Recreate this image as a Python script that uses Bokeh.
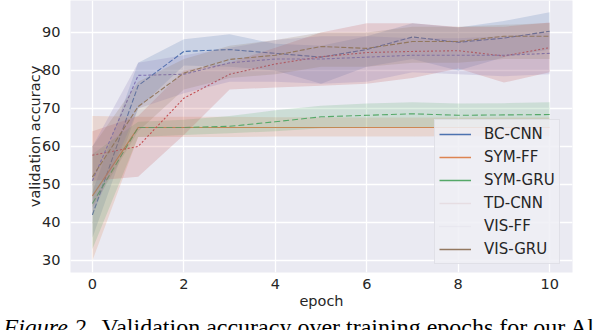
from bokeh.plotting import figure
from bokeh.models import Range1d, Legend, LegendItem, Title, FixedTicker, ColumnDataSource
from bokeh.embed import file_html
from bokeh.resources import INLINE

# ---------------- data ----------------
epochs = [0, 1, 2, 3, 4, 5, 6, 7, 8, 9, 10]
models = ["BC-CNN", "SYM-FF", "SYM-GRU", "TD-CNN", "VIS-FF", "VIS-GRU"]

bc_cnn_mean = [42, 76, 85, 85.5, 84.5, 83.5, 85.5, 88.8, 87.4, 88.5, 90.3]
bc_cnn_lo = [36, 70, 81.3, 81, 80, 76.5, 81, 83, 80, 83.5, 85.5]
bc_cnn_hi = [48, 82, 88.2, 89.5, 87, 86.5, 89, 92.4, 91.3, 93, 95.3]

sym_ff_mean = [47, 65, 65, 65, 65, 65, 65, 65, 65, 65, 65]
sym_ff_lo = [30, 62.5, 62.5, 62.5, 62.6, 62.6, 62.6, 62.6, 62.7, 62.7, 62.7]
sym_ff_hi = [68, 67.8, 67.8, 67.8, 67.7, 67.7, 67.6, 67.6, 67.6, 67.6, 67.6]

sym_gru_mean = [45, 65, 65, 65.3, 66.5, 67.8, 68.2, 68.6, 68.2, 68.3, 68.4]
sym_gru_lo = [33, 62.5, 63, 63.5, 64, 64.8, 65, 65, 65, 65, 65]
sym_gru_hi = [58, 66.5, 67, 68, 69.5, 70.7, 71.3, 71.6, 71.3, 71.4, 71.6]

td_cnn_mean = [57.7, 60, 72.7, 79, 81.7, 83.6, 84.7, 85, 85.2, 83.8, 86]
td_cnn_lo = [51, 52, 63, 75, 75.5, 76, 76.5, 78, 80.5, 76.8, 79.5]
td_cnn_hi = [64, 68, 80, 82, 86, 90, 92.4, 92.4, 91.4, 91.5, 92.6]

vis_ff_mean = [51, 78.7, 79, 82, 83, 83, 83.5, 84, 84, 84, 84.5]
vis_ff_lo = [42, 70, 74, 77, 77, 76.5, 77, 79.5, 79, 78.5, 79]
vis_ff_hi = [60, 82, 84, 86, 88, 89, 89, 88.5, 88.5, 89, 90]

vis_gru_mean = [52, 70.5, 79.3, 82.9, 84, 86.3, 85.8, 87.6, 87.6, 89, 89]
vis_gru_lo = [44, 64, 75, 78, 79, 81, 81, 82, 82, 83, 83]
vis_gru_hi = [60, 77, 83, 86.5, 88, 90, 90, 91.5, 91.5, 92, 92.5]

x_ticks = [0, 2, 4, 6, 8, 10]
y_ticks = [30, 40, 50, 60, 70, 80, 90]

caption_italic = "Figure 2."
caption_rest = "Validation accuracy over training epochs for our Al"

means = [bc_cnn_mean, sym_ff_mean, sym_gru_mean, td_cnn_mean, vis_ff_mean, vis_gru_mean]
los = [bc_cnn_lo, sym_ff_lo, sym_gru_lo, td_cnn_lo, vis_ff_lo, vis_gru_lo]
his = [bc_cnn_hi, sym_ff_hi, sym_gru_hi, td_cnn_hi, vis_ff_hi, vis_gru_hi]

# ---------------- styles ----------------
colors = ["#4c72b0", "#dd8452", "#55a868", "#c44e52", "#8172b3", "#937860"]
dashes = ["5 2", "solid", "6 3", "2 2", "3 2", "5 2"]
legend_colors = ["#4c72b0", "#dd8452", "#55a868", "#e6dde2", "#e3e1ea", "#937860"]
legend_dashes = ["solid", "solid", "solid", "solid", "1 1", "solid"]

FONT = "DejaVu Sans"
TXT = "#262626"

p = figure(width=604, height=330,
           x_range=Range1d(-0.48, 10.5), y_range=Range1d(26.84, 98.4),
           output_backend="svg", toolbar_location=None,
           min_border_left=70, min_border_right=32,
           min_border_top=0, min_border_bottom=58)
p.background_fill_color = "#eaeaf2"
p.border_fill_color = "white"
p.outline_line_color = None

p.xaxis.ticker = FixedTicker(ticks=x_ticks)
p.yaxis.ticker = FixedTicker(ticks=y_ticks)
p.xaxis.axis_label = "epoch"
p.yaxis.axis_label = "validation accuracy"
for ax in p.axis:
    ax.axis_line_color = None
    ax.major_tick_line_color = None
    ax.minor_tick_line_color = None
    ax.major_label_text_font = FONT
    ax.major_label_text_font_size = "14.5px"
    ax.major_label_text_color = TXT
    ax.axis_label_text_font = FONT
    ax.axis_label_text_font_size = "14.5px"
    ax.axis_label_text_font_style = "normal"
    ax.axis_label_text_color = TXT
p.xaxis.major_label_standoff = 0
p.xaxis.axis_label_standoff = 1
p.yaxis.major_label_standoff = 4
p.yaxis.axis_label_standoff = -4

p.grid.grid_line_color = "white"
p.grid.grid_line_width = 1.3

for m, lo, hi, c, d in zip(means, los, his, colors, dashes):
    src = ColumnDataSource(dict(x=epochs, y=m, lo=lo, hi=hi))
    p.line("x", "y", source=src, line_color=c, line_width=1.1, line_dash=d)
    p.varea(x="x", y1="lo", y2="hi", source=src, fill_color=c, fill_alpha=0.2)

items = []
for name, c, d in zip(models, legend_colors, legend_dashes):
    # legend-only renderers placed outside the visible range
    r = p.line(x=[-20, -19], y=[0, 0], line_color=c, line_width=1.5, line_dash=d)
    items.append(LegendItem(label=name, renderers=[r]))

legend = Legend(items=items, location=(364, 8))
legend.background_fill_color = "#eeeef4"
legend.background_fill_alpha = 0.85
legend.border_line_color = "#d2d2da"
legend.border_line_width = 1
legend.label_text_font = FONT
legend.label_text_font_size = "15px"
legend.label_text_color = TXT
legend.glyph_width = 32
legend.glyph_height = 20
legend.label_height = 20
legend.spacing = 3
legend.padding = 4
legend.label_standoff = 13
legend.margin = 0
p.add_layout(legend)

# spacer panel between the x axis and the caption
spacer = Title(text=" ", text_font_size="10px", standoff=4)
p.add_layout(spacer, "below")

cap1 = Title(text=caption_italic, align="left", offset=-67, vertical_align="top",
             text_font="Liberation Serif", text_font_size="24px", text_font_style="italic",
             text_color="black", standoff=-29)
cap2 = Title(text=caption_rest, align="left", offset=31, vertical_align="top",
             text_font="Liberation Serif", text_font_size="24px", text_font_style="normal",
             text_color="black", standoff=-29)
p.add_layout(cap1, "below")
p.add_layout(cap2, "below")

open("out.html", "w").write(file_html(p, INLINE))
